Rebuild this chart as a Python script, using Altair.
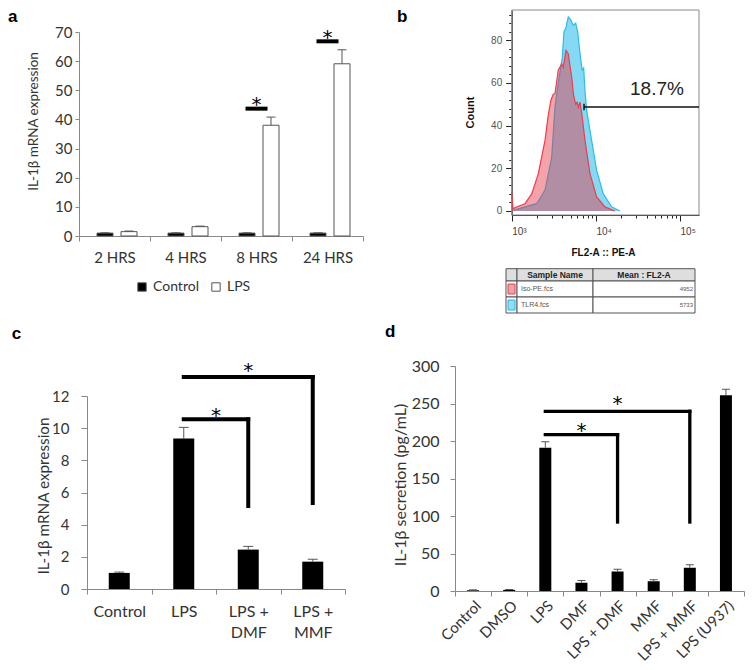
import altair as alt
import pandas as pd

FONT = "Lato"
FLOW_FONT = "Liberation Sans"
STAR_FONT = "DejaVu Sans"
INK = "#333333"
AXIS_GRAY = "#888888"

# ---------------- panel a : IL-1b mRNA over time ----------------
a_times = ["2 HRS", "4 HRS", "8 HRS", "24 HRS"]
a_groups = ["Control", "LPS"]
a_control = [1.0, 1.0, 1.0, 1.0]
a_control_err = [0.1, 0.1, 0.1, 0.1]
a_lps = [1.5, 3.2, 38.0, 59.1]
a_lps_err = [0.2, 0.2, 2.8, 4.8]
a_sig_times = ["8 HRS", "24 HRS"]
a_sig_bar = [43.7, 66.8]
a_sig_star = [46.8, 69.7]
a_y_ticks = [0, 10, 20, 30, 40, 50, 60, 70]

# ---------------- panel b : flow cytometry histogram ----------------
b_red_fl2 = [1000, 1036, 1156, 1438, 1729, 2072, 2485, 2720, 2929, 3119,
             3267, 3576, 3926, 4100, 4413, 4700, 4922, 5160, 5393, 5754,
             5970, 6184, 6475, 6781, 7430, 8511, 10210, 12820, 16860]
b_red_count = [9, 1, 2, 3.4, 8, 17.5, 33, 45, 52, 54.7,
               55, 66, 69, 67.4, 75.3, 73.7, 68, 62.8, 55, 50,
               51, 48.7, 51, 46, 33, 17.5, 6.6, 1.9, 0]
b_blue_fl2 = [1000, 1095, 1438, 1982, 2485, 2985, 3267, 3576, 3747, 3990,
              4178, 4413, 4700, 5020, 5393, 5754, 6081, 6300, 6653, 6890,
              7161, 7430, 7780, 8913, 10210, 12250, 15410, 19320]
b_blue_count = [0, 0.5, 1.9, 3.4, 9.8, 25, 48.7, 60, 65, 72,
                84, 86, 91, 89.6, 87, 88, 84, 78, 70, 66,
                67, 56, 47, 33, 19, 8, 1.9, 0]
b_x_domain = [1000, 167900]
b_y_domain = [-1.9, 94.2]
b_x_ticks = [1000 * k for k in range(1, 10)] + [10000 * k for k in range(1, 10)] + [100000]
b_y_ticks = list(range(0, 93, 4))
b_gate_from = 7230
b_gate_count = 48.7
b_gate_label = "18.7%"
b_gate_label_fl2 = 53200
b_gate_label_count = 57.2
b_tbl_header = ["Sample Name", "Mean : FL2-A"]
b_tbl_samples = ["Iso-PE.fcs", "TLR4.fcs"]
b_tbl_means = ["4952", "5733"]
b_tbl_swatch = ["#f4a0a8", "#8fdff6"]
b_tbl_swatch_line = ["#e2404f", "#22b5e6"]

# ---------------- panel c : IL-1b mRNA with DMF / MMF ----------------
c_cats = ["Control", "LPS", "LPS + DMF", "LPS + MMF"]
c_vals = [1.0, 9.35, 2.45, 1.7]
c_err = [0.05, 0.7, 0.2, 0.15]
c_br_from = ["LPS", "LPS"]
c_br_to = ["LPS + DMF", "LPS + MMF"]
c_br_top = [10.55, 13.18]
c_br_bottom = [5.16, 5.35]
c_star_y = [11.06, 13.86]
c_y_ticks = [0, 2, 4, 6, 8, 10, 12]

# ---------------- panel d : IL-1b secretion ----------------
d_cats = ["Control", "DMSO", "LPS", "DMF", "LPS + DMF", "MMF", "LPS + MMF", "LPS (U937)"]
d_vals = [1.0, 1.5, 191, 11, 26, 13, 31, 261]
d_err = [0.5, 0.5, 8, 3, 3, 2, 4, 8]
d_br_from = ["LPS", "LPS"]
d_br_to = ["LPS + DMF", "LPS + MMF"]
d_br_top = [208.4, 239.6]
d_br_bottom = [92, 92]
d_star_y = [219.7, 256]
d_y_ticks = [0, 50, 100, 150, 200, 250, 300]

# ---------------- layout (pixels inside each panel box) ----------------
A_W, A_H = 366, 310
B_W, B_H = 371, 310
C_W, C_H = 366, 271
D_W, D_H = 371, 271

A_XRANGE, A_YRANGE = [71, 355], [226, 22]
B_XRANGE, B_YRANGE = [137.7, 325], [205, 0]
B_TX_RANGE, B_TY_RANGE = [132, 321], [258.7, 303]
C_XRANGE, C_YRANGE = [79, 337], [269, 76]
D_XRANGE, D_YRANGE = [81, 370], [271, 46]

tbl_col_edges = [0, 11, 87, 189]
tbl_row_edges = [0, 12.3, 28.3, 44.3]

STAR_STYLE = dict(text="*", font=STAR_FONT, fontSize=20, baseline="alphabetic", dy=11,
                  color="#000000")


def letter(t, x, y):
    return alt.Chart(pd.DataFrame({"t": [t]})).mark_text(
        font=FLOW_FONT, fontWeight="bold", fontSize=17, align="left",
        baseline="alphabetic", color="#000000").encode(
        text="t:N", x=alt.value(x), y=alt.value(y))


# ======================= panel a =======================
a_df = pd.DataFrame({
    "time": a_times * 2,
    "group": ["Control"] * 4 + ["LPS"] * 4,
    "value": a_control + a_lps,
    "err": a_control_err + a_lps_err,
})
a_df["hi"] = a_df["value"] + a_df["err"]
a_sig_df = pd.DataFrame({"time": a_sig_times, "bar": a_sig_bar, "star": a_sig_star})

a_xaxis = alt.Axis(offset=A_YRANGE[0] - A_H, tickBand="extent", tickSize=5,
                   tickColor=AXIS_GRAY, domainColor=AXIS_GRAY, labelAngle=0,
                   labelFont=FONT, labelFontSize=15, labelColor=INK, labelPadding=9)
a_yaxis = alt.Axis(values=a_y_ticks, offset=-A_XRANGE[0], tickSize=4, tickColor=AXIS_GRAY,
                   domainColor=AXIS_GRAY, grid=False, labelFont=FONT, labelFontSize=15,
                   labelColor=INK, labelPadding=3, titleFont=FONT, titleFontSize=13.5,
                   titleFontWeight="normal", titleColor=INK, titleX=-45.7, titleY=111,
                   titleBaseline="middle", titleAlign="center", titleAngle=270)


def a_x():
    return alt.X("time:N", title=None, axis=a_xaxis,
                 scale=alt.Scale(domain=a_times, range=A_XRANGE, paddingInner=0, paddingOuter=0))


def a_y(f):
    return alt.Y(f"{f}:Q", title="IL-1β mRNA expression", axis=a_yaxis, stack=None,
                 scale=alt.Scale(domain=[0, 70], range=A_YRANGE, nice=False))


def a_off():
    return alt.XOffset("group:N", scale=alt.Scale(domain=a_groups, range=[18, 58],
                                                  paddingInner=1 / 3, paddingOuter=0))


a_bars = alt.Chart(a_df).mark_bar(stroke="#555555", strokeWidth=1).encode(
    x=a_x(), xOffset=a_off(), y=a_y("value"),
    fill=alt.Fill("group:N", scale=alt.Scale(domain=a_groups, range=["#000000", "#ffffff"]),
                  legend=alt.Legend(title=None, orient="none", legendX=127, legendY=270,
                                    direction="horizontal", symbolType="square", symbolSize=70,
                                    symbolStrokeColor="#555555", symbolStrokeWidth=1,
                                    labelFont=FONT, labelFontSize=14, labelColor=INK,
                                    columnPadding=10, labelOffset=4, padding=0)))
a_err = alt.Chart(a_df).mark_rule(color="#555555", strokeWidth=1).encode(
    x=a_x(), xOffset=a_off(), y=a_y("value"), y2="hi:Q")
a_cap = alt.Chart(a_df).mark_tick(color="#555555", thickness=1, size=9, orient="horizontal",
                                  opacity=1).encode(
    x=a_x(), xOffset=a_off(), y=a_y("hi"))
a_sig = alt.Chart(a_sig_df).mark_tick(color="#000000", thickness=4, size=22, orient="horizontal",
                                      opacity=1).encode(
    x=a_x(), y=a_y("bar"))
a_star = alt.Chart(a_sig_df).mark_text(**STAR_STYLE).encode(x=a_x(), y=a_y("star"))
panel_a = alt.layer(a_bars, a_err, a_cap, a_sig, a_star, letter("a", 0, 12)).properties(
    width=A_W, height=A_H)

# ======================= panel b =======================
bxs = alt.Scale(type="log", domain=b_x_domain, range=B_XRANGE, nice=False)
bys = alt.Scale(domain=b_y_domain, range=B_YRANGE, nice=False, zero=False)
major_test = "datum.value == 1000 || datum.value == 10000 || datum.value == 100000"
b_xaxis = alt.Axis(values=b_x_ticks, offset=B_YRANGE[0] - B_H,
                   labelExpr="datum.value == 1000 ? '10³' : datum.value == 10000 ? '10⁴' : datum.value == 100000 ? '10⁵' : ''",
                   tickSize={"condition": {"test": major_test, "value": 6}, "value": 3},
                   tickColor="#222222", domainColor="#222222", labelAlign="left",
                   labelFont=FLOW_FONT, labelFontSize=10, labelColor="#444444", labelPadding=5,
                   labelOverlap=False, labelFlush=False, grid=False,
                   titleFont=FLOW_FONT, titleFontSize=10, titleFontWeight="bold", titleColor="#111111",
                   titleX=229, titleY=37, titleBaseline="middle", titleAlign="center")
b_yaxis = alt.Axis(values=b_y_ticks, offset=-B_XRANGE[0],
                   labelExpr="datum.value % 20 == 0 ? datum.label : ''",
                   tickSize={"condition": {"test": "datum.value % 20 == 0", "value": 6}, "value": 3},
                   tickColor="#222222", domainColor="#222222", grid=False,
                   labelFont=FLOW_FONT, labelFontSize=10, labelColor="#555555", labelPadding=4,
                   labelOverlap=False, titleFont=FLOW_FONT, titleFontSize=11, titleFontWeight="bold",
                   titleColor="#111111", titleX=-41.7, titleY=102, titleBaseline="middle",
                   titleAlign="center", titleAngle=270)


def bx(f):
    return alt.X(f"{f}:Q", scale=bxs, axis=b_xaxis, title="FL2-A :: PE-A")


def by(f):
    return alt.Y(f"{f}:Q", scale=bys, axis=b_yaxis, title="Count")


red_df = pd.DataFrame({"fl2": b_red_fl2, "count": b_red_count})
blue_df = pd.DataFrame({"fl2": b_blue_fl2, "count": b_blue_count})
frame_df = pd.DataFrame({"x0": [b_x_domain[0]], "x1": [b_x_domain[1]],
                         "y0": [b_y_domain[0]], "y1": [b_y_domain[1]]})
gate_df = pd.DataFrame({"x0": [b_gate_from], "x1": [b_x_domain[1]], "y": [b_gate_count],
                        "ylo": [b_gate_count - 1.5], "yhi": [b_gate_count + 1.5]})
glabel_df = pd.DataFrame({"x": [b_gate_label_fl2], "y": [b_gate_label_count], "t": [b_gate_label]})

b_frame = alt.Chart(frame_df).mark_rect(fillOpacity=0, stroke="#8a8a8a", strokeWidth=1).encode(
    x=bx("x0"), x2="x1:Q", y=by("y0"), y2="y1:Q")
b_blue_area = alt.Chart(blue_df).mark_area(color="#86d9f2", opacity=1).encode(
    x=bx("fl2"), y=by("count"), y2=alt.datum(0))
b_blue_line = alt.Chart(blue_df).mark_line(color="#2bbdec", strokeWidth=1.2).encode(
    x=bx("fl2"), y=by("count"))
b_red_area = alt.Chart(red_df).mark_area(color="#e73344", opacity=0.45).encode(
    x=bx("fl2"), y=by("count"), y2=alt.datum(0))
b_red_line = alt.Chart(red_df).mark_line(color="#ee3d4d", strokeWidth=1.2).encode(
    x=bx("fl2"), y=by("count"))
b_gate = alt.Chart(gate_df).mark_rule(color="#111111", strokeWidth=1.5).encode(
    x=bx("x0"), x2="x1:Q", y=by("y"))
b_gate_cap = alt.Chart(gate_df).mark_rule(color="#111111", strokeWidth=1.5).encode(
    x=bx("x0"), y=by("ylo"), y2="yhi:Q")
b_glabel = alt.Chart(glabel_df).mark_text(font=FLOW_FONT, fontSize=19, color="#222222",
                                          baseline="middle", align="center").encode(
    x=bx("x"), y=by("y"), text="t:N")
b_hist = alt.layer(b_frame, b_blue_area, b_blue_line, b_red_area, b_red_line,
                   b_gate, b_gate_cap, b_glabel, letter("b", 23, 12))

# table under the histogram
txs = alt.Scale(domain=[0, tbl_col_edges[-1]], range=B_TX_RANGE, nice=False, zero=False)
tys = alt.Scale(domain=[0, tbl_row_edges[-1]], range=B_TY_RANGE, nice=False, zero=False)
cells = []
for r in range(3):
    for c in range(3):
        cells.append({"x0": tbl_col_edges[c], "x1": tbl_col_edges[c + 1],
                      "y0": tbl_row_edges[r], "y1": tbl_row_edges[r + 1],
                      "fill": "#dedede" if r == 0 else "#ffffff"})
cells_df = pd.DataFrame(cells)
sw_df = pd.DataFrame({"x0": [2, 2], "x1": [9, 9],
                      "y0": [tbl_row_edges[1] + 3, tbl_row_edges[2] + 3],
                      "y1": [tbl_row_edges[2] - 3, tbl_row_edges[3] - 3],
                      "fill": b_tbl_swatch, "line": b_tbl_swatch_line})
hdr_df = pd.DataFrame({"x": [(tbl_col_edges[1] + tbl_col_edges[2]) / 2,
                             (tbl_col_edges[2] + tbl_col_edges[3]) / 2],
                       "y": [tbl_row_edges[1] / 2] * 2, "t": b_tbl_header})
row_mid = [(tbl_row_edges[1] + tbl_row_edges[2]) / 2, (tbl_row_edges[2] + tbl_row_edges[3]) / 2]
name_df = pd.DataFrame({"x": [tbl_col_edges[1] + 4] * 2, "y": row_mid, "t": b_tbl_samples})
mean_df = pd.DataFrame({"x": [tbl_col_edges[3] - 2] * 2, "y": row_mid, "t": b_tbl_means})


def tx(f):
    return alt.X(f"{f}:Q", scale=txs, axis=None)


def ty(f):
    return alt.Y(f"{f}:Q", scale=tys, axis=None)


t_cells = alt.Chart(cells_df).mark_rect(stroke="#555555", strokeWidth=1).encode(
    x=tx("x0"), x2="x1:Q", y=ty("y0"), y2="y1:Q", fill=alt.Fill("fill:N", scale=None))
t_sw = alt.Chart(sw_df).mark_rect(strokeWidth=1).encode(
    x=tx("x0"), x2="x1:Q", y=ty("y0"), y2="y1:Q",
    fill=alt.Fill("fill:N", scale=None), stroke=alt.Stroke("line:N", scale=None))
t_hdr = alt.Chart(hdr_df).mark_text(font=FLOW_FONT, fontSize=8.5, fontWeight="bold",
                                    color="#222222", baseline="middle").encode(
    x=tx("x"), y=ty("y"), text="t:N")
t_name = alt.Chart(name_df).mark_text(font=FLOW_FONT, fontSize=7, color="#555555",
                                      baseline="middle", align="left").encode(
    x=tx("x"), y=ty("y"), text="t:N")
t_mean = alt.Chart(mean_df).mark_text(font=FLOW_FONT, fontSize=6, color="#555555",
                                      baseline="middle", align="right").encode(
    x=tx("x"), y=ty("y"), text="t:N")
b_table = alt.layer(t_cells, t_sw, t_hdr, t_name, t_mean)

panel_b = alt.layer(b_hist, b_table).resolve_scale(x="independent", y="independent").properties(
    width=B_W, height=B_H)


# ======================= panels c and d =======================
def bar_panel(cats, vals, errs, br_from, br_to, br_top, br_bottom, star_y, y_ticks,
              xrange, yrange, ydomain, W, H, bar_size, line_w, cap_size, xaxis_kw, yaxis_kw,
              ytitle, let, let_x, let_y):
    df = pd.DataFrame({"cat": cats, "value": vals, "err": errs})
    df["hi"] = df["value"] + df["err"]
    xaxis = alt.Axis(offset=yrange[0] - H, tickBand="extent", tickSize=5, tickColor=AXIS_GRAY,
                     domainColor=AXIS_GRAY, labelFont=FONT, labelColor=INK, **xaxis_kw)
    yaxis = alt.Axis(values=y_ticks, offset=-xrange[0], tickColor=AXIS_GRAY, domainColor=AXIS_GRAY,
                     grid=False, labelFont=FONT, labelColor=INK, titleFont=FONT,
                     titleFontWeight="normal", titleColor=INK, titleBaseline="middle",
                     titleAlign="center", titleAngle=270, **yaxis_kw)
    xs = alt.Scale(domain=cats, range=xrange, paddingInner=0, paddingOuter=0)
    ys = alt.Scale(domain=ydomain, range=yrange, nice=False)

    def X(f, bp=None):
        if bp is None:
            return alt.X(f"{f}:N", scale=xs, axis=xaxis, title=None)
        return alt.X(f"{f}:N", scale=xs, axis=xaxis, title=None, bandPosition=bp)

    def Y(f):
        return alt.Y(f"{f}:Q", scale=ys, axis=yaxis, title=ytitle)

    bars = alt.Chart(df).mark_bar(color="#000000", size=bar_size).encode(x=X("cat"), y=Y("value"))
    err = alt.Chart(df).mark_rule(color="#555555", strokeWidth=1).encode(
        x=X("cat"), y=Y("value"), y2="hi:Q")
    cap = alt.Chart(df).mark_tick(color="#555555", thickness=1, size=cap_size,
                                  orient="horizontal", opacity=1).encode(x=X("cat"), y=Y("hi"))
    br_df = pd.DataFrame({"a": br_from, "b": br_to, "top": br_top, "bottom": br_bottom})
    hline = alt.Chart(br_df).mark_rule(color="#000000", strokeWidth=line_w, strokeCap="square").encode(
        x=X("a"), x2="b:N", y=Y("top"))
    vline = alt.Chart(br_df).mark_rule(color="#000000", strokeWidth=line_w, strokeCap="square").encode(
        x=X("b"), y=Y("top"), y2="bottom:Q")
    layers = [bars, err, cap, hline, vline]
    for a_, b_, sy in zip(br_from, br_to, star_y):
        mid = (cats.index(a_) + cats.index(b_)) / 2
        if mid == int(mid):
            cat, bp = cats[int(mid)], 0.5
        else:
            cat, bp = cats[int(mid) + 1], 0.0
        sdf = pd.DataFrame({"cat": [cat], "y": [sy]})
        layers.append(alt.Chart(sdf).mark_text(**STAR_STYLE).encode(x=X("cat", bp), y=Y("y")))
    layers.append(letter(let, let_x, let_y))
    return alt.layer(*layers).properties(width=W, height=H)


panel_c = bar_panel(
    c_cats, c_vals, c_err, c_br_from, c_br_to, c_br_top, c_br_bottom, c_star_y, c_y_ticks,
    C_XRANGE, C_YRANGE, [0, 12], C_W, C_H, 21, 4, 10,
    dict(labelAngle=0, labelFontSize=16, labelPadding=9, labelLineHeight=21,
         labelExpr="split(replace(datum.label, ' + ', ' +|'), '|')"),
    dict(tickSize=6, labelFontSize=15, labelPadding=12, titleFontSize=15.3, titleX=-43.7, titleY=175.5),
    "IL-1β mRNA expression", "c", 3.7, 19)

panel_d = bar_panel(
    d_cats, d_vals, d_err, d_br_from, d_br_to, d_br_top, d_br_bottom, d_star_y, d_y_ticks,
    D_XRANGE, D_YRANGE, [0, 300], D_W, D_H, 12, 3.3, 8,
    dict(labelAngle=-45, labelFontSize=15, labelPadding=2),
    dict(tickSize=5, labelFontSize=16, labelPadding=11, titleFontSize=16, titleX=-55, titleY=164.5),
    "IL-1β secretion (pg/mL)", "d", 11, 17)

chart = alt.concat(panel_a, panel_b, panel_c, panel_d, columns=2, spacing=0,
                   bounds="flush", align="each").properties(padding=0).configure_view(stroke=None)

chart.save("out.html", embed_options={"renderer": "svg", "actions": False})
